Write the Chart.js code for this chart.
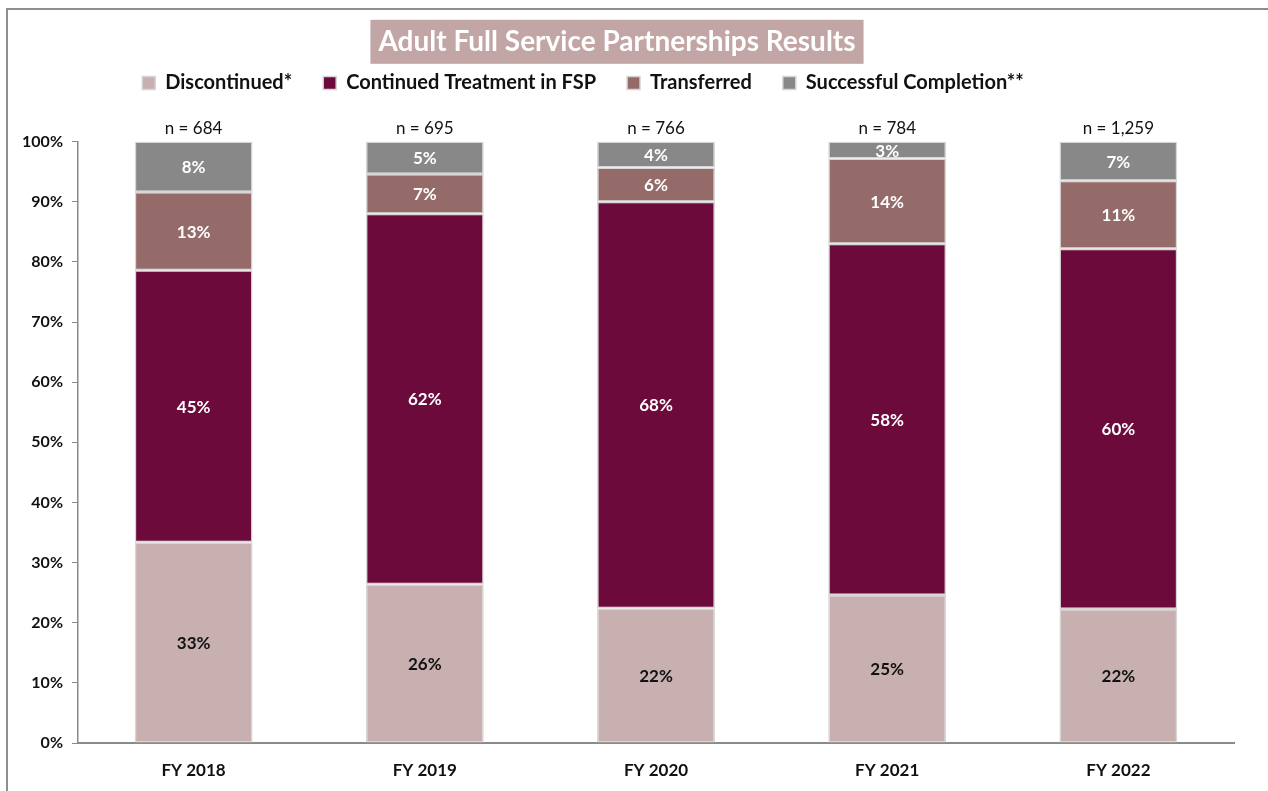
<!DOCTYPE html>
<html>
<head>
<meta charset="utf-8">
<title>Adult Full Service Partnerships Results</title>
<script src="https://cdn.jsdelivr.net/npm/chart.js@4/dist/chart.umd.min.js"></script>
<style>
  html, body { margin: 0; padding: 0; background: #fff; overflow: hidden; }
  #frame {
    position: absolute; left: 6px; top: 8px; width: 1270px; height: 800px;
    border-top: 2px solid #8e8e8e; border-left: 2px solid #8e8e8e;
  }
  #chart { position: absolute; left: 0; top: 0; }
</style>
</head>
<body>
<div id="frame"></div>
<canvas id="chart" width="1268" height="791"></canvas>
<script>
// ---------- DATA ----------
const years = ["FY 2018", "FY 2019", "FY 2020", "FY 2021", "FY 2022"];
const nTotals = [684, 695, 766, 784, 1259];

const discontinued = [33.4, 26.4, 22.4, 24.6, 22.3];
const continued    = [45.2, 61.6, 67.6, 58.4, 59.9];
const transferred  = [13.0, 6.6, 5.7, 14.2, 11.3];
const completion   = [8.4, 5.4, 4.3, 2.8, 6.5];

const yTicks = [0, 10, 20, 30, 40, 50, 60, 70, 80, 90, 100];

const FONT = "Lato, 'Open Sans', sans-serif";

// ---------- PLUGINS ----------
// shaded box behind the title text
const titleBox = {
  id: "titleBox",
  beforeDraw(chart) {
    const t = chart.titleBlock;
    const opts = chart.options.plugins.title;
    const ctx = chart.ctx;
    ctx.save();
    ctx.font = `bold ${opts.font.size}px ${FONT}`;
    const w = ctx.measureText(opts.text).width;
    const cx = (t.left + t.right) / 2;
    const cy = t.top + opts.padding.top + (opts.font.size * 1.2) / 2;
    ctx.fillStyle = "#c2a5a5";
    ctx.fillRect(cx - w / 2 - 8, cy - 22, w + 16, 44);
    ctx.restore();
  }
};

// legend sits tight under the title, leaving space for the n = labels
const legendSpacing = {
  id: "legendSpacing",
  beforeInit(chart) {
    const fit = chart.legend.fit;
    chart.legend.fit = function () {
      fit.call(this);
      this.height = 83;
    };
  },
  afterLayout(chart) {
    const lg = chart.legend;
    lg.top = 42;
    lg.left -= 34;
    lg.right -= 34;
  }
};

// percent inside each segment and n = above each bar
const barLabels = {
  id: "barLabels",
  afterDatasetsDraw(chart) {
    const ctx = chart.ctx;
    ctx.save();
    ctx.textAlign = "center";
    ctx.textBaseline = "middle";
    ctx.font = `bold 17px ${FONT}`;
    chart.data.datasets.forEach((ds, di) => {
      const meta = chart.getDatasetMeta(di);
      meta.data.forEach((bar, i) => {
        const v = ds.data[i];
        ctx.fillStyle = di === 0 ? "#111" : "#fff";
        ctx.fillText(Math.round(v) + "%", bar.x, (bar.y + bar.base) / 2 + 1);
      });
    });
    const top = chart.getDatasetMeta(chart.data.datasets.length - 1);
    ctx.font = `17px ${FONT}`;
    ctx.fillStyle = "#111";
    ctx.textBaseline = "alphabetic";
    top.data.forEach((bar, i) => {
      ctx.fillText("n = " + nTotals[i].toLocaleString("en-US"), bar.x, bar.y - 8);
    });
    ctx.restore();
  }
};

// ---------- CHART ----------
const segBorder = { borderColor: "#d6d6d6", borderWidth: 1.5, borderSkipped: false };

new Chart(document.getElementById("chart"), {
  type: "bar",
  data: {
    labels: years,
    datasets: [
      { label: "Discontinued*", data: discontinued, backgroundColor: "#c8b0b0", ...segBorder },
      { label: "Continued Treatment in FSP", data: continued, backgroundColor: "#6c0a3b", ...segBorder },
      { label: "Transferred", data: transferred, backgroundColor: "#956b6a", ...segBorder },
      { label: "Successful Completion**", data: completion, backgroundColor: "#888888", ...segBorder }
    ]
  },
  options: {
    responsive: false,
    animation: false,
    layout: { padding: { top: 0, left: 0, right: 34, bottom: 0 } },
    datasets: { bar: { categoryPercentage: 1, barPercentage: 0.51 } },
    plugins: {
      title: {
        display: true,
        text: "Adult Full Service Partnerships Results",
        color: "#fff",
        font: { family: FONT, size: 28, weight: "bold" },
        padding: { top: 25, bottom: 0 }
      },
      legend: {
        display: true,
        labels: {
          color: "#111",
          font: { family: FONT, size: 20, weight: "bold" },
          boxWidth: 13,
          boxHeight: 13,
          padding: 31,
          useBorderRadius: false
        }
      },
      tooltip: { enabled: false }
    },
    scales: {
      x: {
        stacked: true,
        grid: { display: false },
        border: { display: true, color: "#8a8a8a", width: 2 },
        ticks: { color: "#111", font: { family: FONT, size: 17, weight: "bold" }, padding: 9 },
        afterFit(scale) { scale.height = 48; }
      },
      y: {
        stacked: true,
        min: 0,
        max: 100,
        afterBuildTicks(scale) { scale.ticks = yTicks.map(v => ({ value: v })); },
        grid: { display: true, drawOnChartArea: false, drawTicks: true, tickLength: 6, color: "#8a8a8a" },
        border: { display: true, color: "#8a8a8a", width: 1.5 },
        ticks: {
          color: "#111",
          font: { family: FONT, size: 16, weight: "bold" },
          padding: 9,
          callback: v => v + "%"
        },
        afterFit(scale) { scale.width = 78; }
      }
    }
  },
  plugins: [titleBox, legendSpacing, barLabels]
});
</script>
</body>
</html>
